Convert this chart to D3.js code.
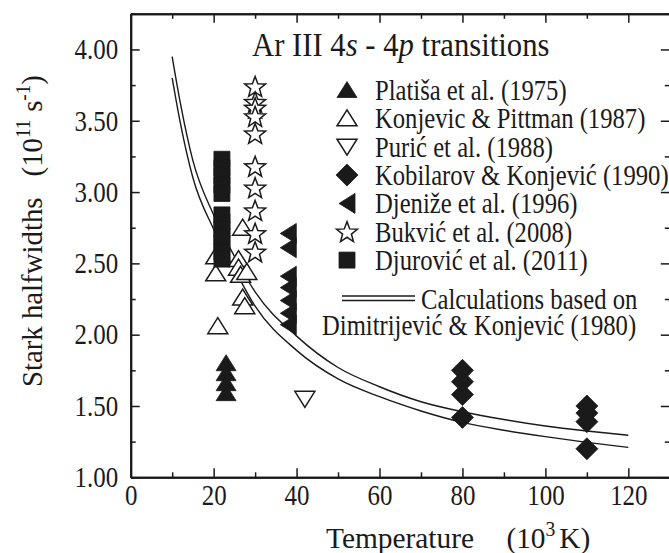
<!DOCTYPE html>
<html>
<head>
<meta charset="utf-8">
<script src="https://cdn.jsdelivr.net/npm/d3@7"></script>
<style>
  body { margin: 0; background: #fff; }
  svg text { font-family: "Liberation Serif", "Times New Roman", serif; fill: #1a1a1a; }
  .axis path, .axis line { stroke: #1a1a1a; }
</style>
</head>
<body>
<svg class="vis" width="669" height="553"></svg>
<script>
// ---- data ----
const platisa   = [[23, 1.80], [23, 1.73], [23, 1.66], [23, 1.59]];
const konjevic  = [[20.5, 2.55], [20.5, 2.43], [21, 2.06], [26, 2.53], [26, 2.47],
                   [26.5, 2.42], [28, 2.44], [27, 2.75], [27, 2.26], [27.5, 2.20]];
const puric     = [[42, 1.55]];
const kobilarov = [[80, 1.75], [80, 1.67], [80, 1.58], [80, 1.42],
                   [110, 1.50], [110, 1.45], [110, 1.39], [110, 1.20]];
const djenize   = [[38, 2.71], [38, 2.61], [38, 2.41], [38, 2.33], [38, 2.24], [38, 2.15], [38, 2.07]];
const bukvic    = [[30, 3.74], [30, 3.63], [30, 3.59], [30, 3.53], [30, 3.41],
                   [30, 3.18], [30, 3.03], [30, 2.87], [30, 2.71], [30, 2.58]];
const djurovic  = [[22, 3.23], [22, 3.17], [22, 3.11], [22, 3.05], [22, 2.99],
                   [22, 2.84], [22, 2.79], [22, 2.74], [22, 2.69], [22, 2.64], [22, 2.58], [22, 2.53]];

const calcT     = [10, 12, 15, 20, 25, 30, 40, 50, 60, 70, 80, 90, 100, 110, 120];
const calcUpper = [3.95, 3.62, 3.22, 2.84, 2.55, 2.30, 1.99, 1.77, 1.635, 1.53, 1.46, 1.405, 1.36, 1.325, 1.295];
const calcLower = [3.80, 3.48, 3.10, 2.74, 2.46, 2.20, 1.89, 1.69, 1.565, 1.465, 1.385, 1.33, 1.285, 1.245, 1.21];

const xMajor = [0, 20, 40, 60, 80, 100, 120];
const xMinor = [10, 30, 50, 70, 90, 110, 130];
const yMajor = [1.0, 1.5, 2.0, 2.5, 3.0, 3.5, 4.0];
const yMinor = [1.25, 1.75, 2.25, 2.75, 3.25, 3.75, 4.25];

const legendNames = ["Platiša et al. (1975)", "Konjevic & Pittman (1987)", "Purić et al. (1988)",
  "Kobilarov & Konjević (1990)", "Djeniže et al. (1996)", "Bukvić et al. (2008)", "Djurović et al. (2011)"];

// ---- marker shapes ----
const ink = "#1a1a1a";
const shapes = {
  upTri:   r => `M0,${-r*0.85}L${r},${r*0.75}L${-r},${r*0.75}Z`,
  downTri: r => `M0,${r*0.85}L${r},${-r*0.75}L${-r},${-r*0.75}Z`,
  leftTri: r => `M${-r*0.8},0L${r*0.8},${-r}L${r*0.8},${r}Z`,
  diamond: r => `M0,${-r}L${r},0L0,${r}L${-r},0Z`,
  square:  r => `M${-r},${-r}H${r}V${r}H${-r}Z`,
  star:    r => {
    let p = [];
    for (let i = 0; i < 10; i++) {
      const a = -Math.PI / 2 + i * Math.PI / 5, rr = i % 2 ? r * 0.42 : r;
      p.push([rr * Math.cos(a), rr * Math.sin(a) + r * 0.08]);
    }
    return "M" + p.join("L") + "Z";
  }
};

const series = [
  { data: platisa,   shape: "upTri",   r: 10,  filled: true },
  { data: konjevic,  shape: "upTri",   r: 10,  filled: false },
  { data: puric,     shape: "downTri", r: 10,  filled: false },
  { data: kobilarov, shape: "diamond", r: 11,  filled: true },
  { data: djenize,   shape: "leftTri", r: 10,  filled: true },
  { data: bukvic,    shape: "star",    r: 11,  filled: false },
  { data: djurovic,  shape: "square",  r: 8,   filled: true }
];

const svg = d3.select("svg.vis");
const x = d3.scaleLinear().domain([0, 130]).range([130.7, 669.8]);
const y = d3.scaleLinear().domain([1, 4.25]).range([477.3, 13.8]);

// scaled text helper (the figure font is narrow)
function label(g, px, py, str, size, sx, anchor) {
  return g.append("text")
    .attr("transform", `translate(${px},${py}) scale(${sx},1)`)
    .attr("text-anchor", anchor || "start")
    .style("font-size", size + "px")
    .text(str);
}

// ---- calculation curves ----
const line = d3.line().x(d => x(d[0])).y(d => y(d[1])).curve(d3.curveMonotoneX);
[calcUpper, calcLower].forEach(vals => {
  svg.append("path")
    .datum(calcT.map((t, i) => [t, vals[i]]))
    .attr("d", line)
    .attr("fill", "none")
    .attr("stroke", ink)
    .attr("stroke-width", 1.4);
});

// ---- markers ----
series.forEach(s => {
  svg.append("g").selectAll("path")
    .data(s.data)
    .join("path")
    .attr("transform", d => `translate(${x(d[0])},${y(d[1])})`)
    .attr("d", shapes[s.shape](s.r))
    .attr("fill", s.filled ? ink : "#fff")
    .attr("stroke", ink)
    .attr("stroke-width", s.filled ? 0.8 : 1.5)
    .attr("stroke-linejoin", "miter");
});

// ---- axes ----
function axis(gen, tx, ty, values, size, fmt) {
  const g = svg.append("g").attr("class", "axis")
    .attr("transform", `translate(${tx},${ty})`)
    .call(gen.tickValues(values).tickSize(size).tickSizeOuter(0).tickFormat(fmt || ""));
  g.select(".domain").attr("stroke-width", 2);
  g.selectAll(".tick line").attr("stroke-width", 1.5);
  return g;
}
const x0 = x(0), x1 = x(130), y0 = y(1), y1 = y(4.25);

const gxb = axis(d3.axisBottom(x).tickPadding(7), 0, y0, xMajor, -9, d3.format("d"));
axis(d3.axisBottom(x), 0, y0, xMinor, -5);
axis(d3.axisTop(x), 0, y1, xMajor, -9);
axis(d3.axisTop(x), 0, y1, xMinor, -5);
const gyl = axis(d3.axisLeft(y).tickPadding(12), x0, 0, yMajor, -9, d3.format(".2f"));
axis(d3.axisLeft(y), x0, 0, yMinor, -5);
axis(d3.axisRight(y), x1, 0, yMajor, -9);
axis(d3.axisRight(y), x1, 0, yMinor, -5);

gxb.selectAll("text").style("font-size", "29px").attr("transform", "scale(0.86,1)");
gyl.selectAll("text").style("font-size", "29px")
  .attr("x", -12.5 / 0.86).attr("transform", "scale(0.86,1)");

// ---- axis titles ----
const xt = svg.append("text")
  .attr("transform", "translate(326,548) scale(0.98,1)")
  .style("font-size", "30px");
xt.append("tspan").text("Temperature");
xt.append("tspan").attr("dx", 33).text("(10");
xt.append("tspan").attr("dy", -12).style("font-size", "20px").text("3");
xt.append("tspan").attr("dy", 12).attr("dx", 4).text("K)");

const yt = svg.append("text")
  .attr("transform", "translate(42,387) rotate(-90) scale(0.96,1)")
  .style("font-size", "30px");
yt.append("tspan").text("Stark halfwidths");
yt.append("tspan").attr("dx", 22).text("(10");
yt.append("tspan").attr("dy", -12).style("font-size", "20px").text("11");
yt.append("tspan").attr("dy", 12).attr("dx", 8).text("s");
yt.append("tspan").attr("dy", -12).style("font-size", "20px").text("-1");
yt.append("tspan").attr("dy", 12).text(")");

// ---- title ----
const tt = svg.append("text")
  .attr("transform", "translate(252,56) scale(0.93,1)")
  .style("font-size", "33px");
tt.append("tspan").text("Ar III 4");
tt.append("tspan").style("font-style", "italic").text("s");
tt.append("tspan").text(" - 4");
tt.append("tspan").style("font-style", "italic").text("p");
tt.append("tspan").text(" transitions");

// ---- legend ----
const lg = svg.append("g");
legendNames.forEach((name, i) => {
  const by = 100 + 28.35 * i, s = series[i];
  lg.append("path")
    .attr("transform", `translate(347,${by - 10})`)
    .attr("d", shapes[s.shape](s.r))
    .attr("fill", s.filled ? ink : "#fff")
    .attr("stroke", ink)
    .attr("stroke-width", s.filled ? 0.8 : 1.5);
  label(lg, 375, by, name, 29, 0.85);
});
[296, 300.5].forEach(ly => {
  lg.append("line").attr("x1", 342).attr("x2", 415).attr("y1", ly).attr("y2", ly)
    .attr("stroke", ink).attr("stroke-width", 1.4);
});
label(lg, 421, 309, "Calculations based on", 29, 0.85);
label(lg, 322, 335, "Dimitrijević & Konjević (1980)", 29, 0.85);
</script>
</body>
</html>
